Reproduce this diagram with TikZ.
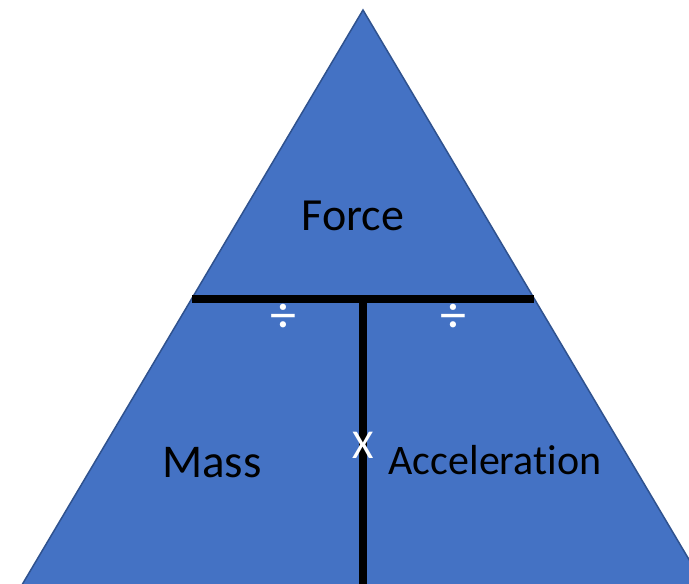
\documentclass[tikz,border=0pt]{standalone}
\usepackage{fontspec}
\setmainfont[Ligatures=NoCommon]{Carlito}
\definecolor{triblue}{HTML}{4472C4}
\definecolor{triedge}{HTML}{2F528F}
\begin{document}
\begin{tikzpicture}[x=1pt,y=-1pt,
  lbl/.style={inner sep=0pt,font=\fontsize{46}{50}\selectfont,text=black},
  wlbl/.style={inner sep=0pt,text=white},
  bar/.style={line width=8pt,black}]
\useasboundingbox (0,0) rectangle (689,584);
\clip (0,0) rectangle (689,584);
\coordinate (apex) at (363,10);
\coordinate (bl) at (13,600);
\coordinate (br) at (713,600);
\draw[fill=triblue,draw=triedge,line width=1.5pt,line join=miter] (apex) -- (br) -- (bl) -- cycle;
\coordinate (hl) at (192,299);
\coordinate (hr) at (534,299);
\coordinate (hm) at (363,299);
\coordinate (vb) at (363,590);
\draw[bar] (hl) -- (hr);
\draw[bar] (hm) -- (vb);
\node[lbl] (force) at (353,216) {Force};
\node[lbl,font=\fontsize{47}{50}\selectfont] (mass) at (212,463) {Mass};
\node[lbl,font=\fontsize{42}{46}\selectfont] (acc) at (495,460) {Acceleration};
\node[wlbl,font=\fontsize{41}{44}\selectfont] (times) at (363,445) {X};
\node[wlbl,font=\fontsize{52}{56}\selectfont] (div1) at (283,318) {÷};
\node[wlbl,font=\fontsize{52}{56}\selectfont] (div2) at (453,318) {÷};
\end{tikzpicture}
\end{document}
